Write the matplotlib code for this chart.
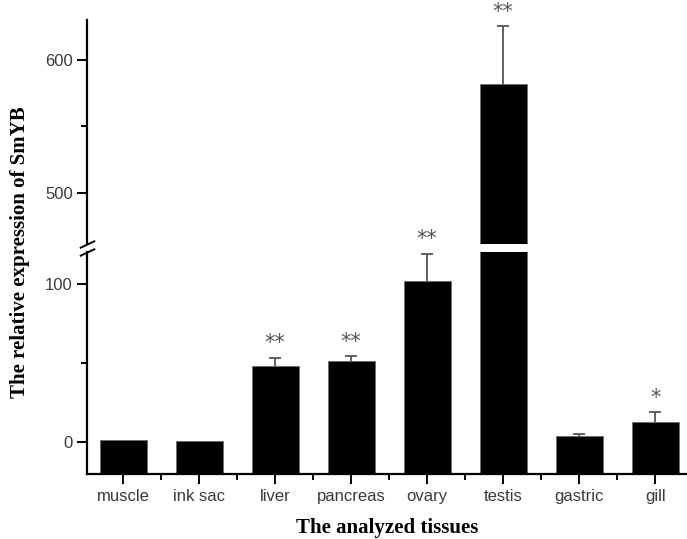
import numpy as np
import matplotlib
matplotlib.use('Agg')
import matplotlib.pyplot as plt
from matplotlib.ticker import MultipleLocator

tissues = ['muscle', 'ink sac', 'liver', 'pancreas', 'ovary', 'testis', 'gastric', 'gill']
expression = [1.5, 0.8, 48.4, 51.0, 102.0, 582.0, 4.2, 12.8]
sd = [0.0, 0.0, 5.0, 3.3, 17.0, 43.5, 1.3, 6.2]
marks = ['', '', '**', '**', '**', '**', '', '*']

low_lim = (-20, 120)
high_lim = (461.5, 630)

W, H = 687, 539
fig = plt.figure(figsize=(W / 100, H / 100), dpi=100)
left = 86.7 / W
ax_low = fig.add_axes([left, 1 - 474 / H, 1 - left, (474 - 252) / H])
ax_high = fig.add_axes([left, 1 - 244 / H, 1 - left, (244 - 20) / H])

x = np.arange(len(tissues))
vals = np.array(expression)
errs = np.array(sd)
gray = '#555555'
tick_font = {'family': 'Liberation Sans', 'size': 12, 'color': '#3a3a3a'}

for ax in (ax_low, ax_high):
    ax.patch.set_visible(False)
    ax.bar(x, vals - low_lim[0], bottom=low_lim[0], width=0.62, color='black',
           edgecolor='#666666', linewidth=0.5)
    has_err = errs > 0
    eb = ax.errorbar(x[has_err], vals[has_err], yerr=[np.zeros(has_err.sum()), errs[has_err]],
                     fmt='none', ecolor=gray, elinewidth=1.3, capsize=4, capthick=1.3)
    eb[1][0].set_visible(False)  # no cap at the bar top
    ax.set_xlim(-0.48, 7.42)
    ax.spines['top'].set_visible(False)
    ax.spines['right'].set_visible(False)
    ax.spines['left'].set_linewidth(1.6)
    ax.spines['bottom'].set_linewidth(1.6)
    ax.yaxis.set_major_locator(MultipleLocator(100))
    ax.yaxis.set_minor_locator(MultipleLocator(50))
    ax.tick_params(axis='y', which='major', length=7, width=1.4, pad=3,
                   labelsize=12, labelcolor='#3a3a3a')
    ax.tick_params(axis='y', which='minor', length=4.5, width=1.4)
    for lab in ax.get_yticklabels():
        lab.set_family('Liberation Sans')

ax_low.set_ylim(*low_lim)
ax_high.set_ylim(*high_lim)

ax_high.spines['bottom'].set_visible(False)
ax_high.tick_params(axis='x', which='both', bottom=False, labelbottom=False)

ax_low.set_xticks(x)
ax_low.set_xticklabels(tissues, fontdict=tick_font)
ax_low.set_xticks(x[:-1] + 0.5, minor=True)
ax_low.tick_params(axis='x', which='major', length=7, width=1.4, pad=4)
ax_low.tick_params(axis='x', which='minor', length=4.5, width=1.4)

# significance stars
for i in range(len(tissues)):
    if not marks[i]:
        continue
    top = vals[i] + errs[i]
    ax = ax_high if top > low_lim[1] + 5 else ax_low
    ax.annotate(marks[i], (x[i], top), xytext=(0, 3), textcoords='offset points',
                ha='center', va='bottom', fontsize=15, color=gray,
                family='DejaVu Sans', annotation_clip=False, zorder=5)

# break marks on the y axis
kw = dict(marker=[(-1, -0.47), (1, 0.47)], markersize=11, linestyle='none',
          color='k', mec='k', mew=1.4, clip_on=False)
ax_high.plot([0], [0], transform=ax_high.transAxes, **kw)
ax_low.plot([0], [1], transform=ax_low.transAxes, **kw)

fig.text(20 / W, 1 - 252 / H, 'The relative expression of SmYB', rotation=90,
         ha='center', va='center', family='Liberation Serif', weight='bold', size=15)
fig.text((left + 1) / 2, 1 - 528 / H, 'The analyzed tissues', ha='center', va='center',
         family='Liberation Serif', weight='bold', size=15)

fig.savefig('out.png', dpi=100)
